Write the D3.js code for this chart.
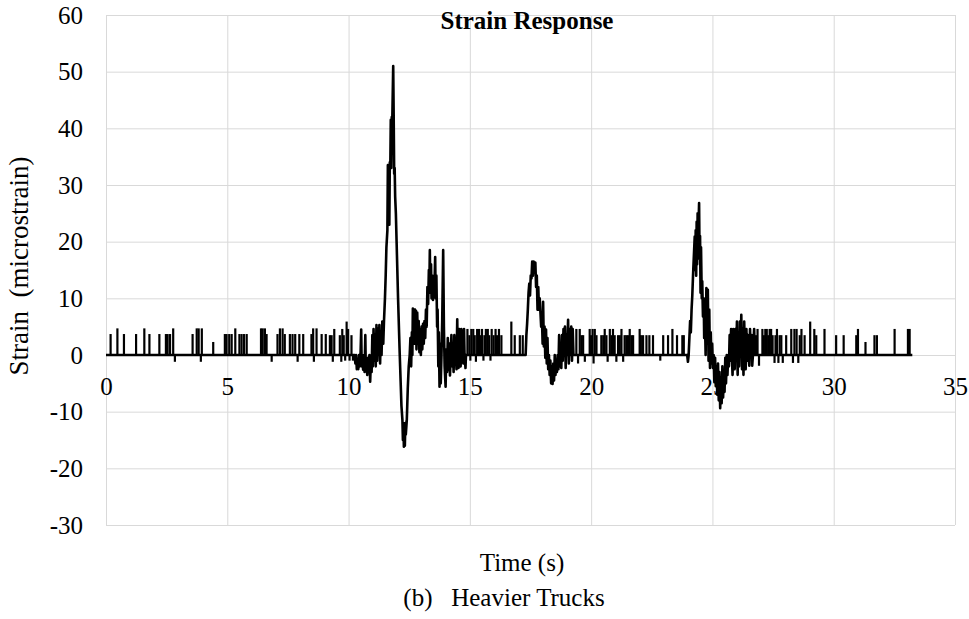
<!DOCTYPE html>
<html>
<head>
<meta charset="utf-8">
<script src="https://cdn.jsdelivr.net/npm/d3@7"></script>
<style>
  html, body { margin: 0; padding: 0; background: #fff; }
  svg { display: block; }
  text { font-family: "Liberation Serif", "Times New Roman", serif; fill: #000; }
</style>
</head>
<body>
<svg id="chart" width="969" height="619"></svg>
<script>
// ---------- data ----------
const xTicks = [0, 5, 10, 15, 20, 25, 30, 35];
const yTicks = [-30, -20, -10, 0, 10, 20, 30, 40, 50, 60];

const chartTitle = "Strain Response";
const xTitle = "Time (s)";
const yTitle = "Strain  (microstrain)";
const caption = "(b)   Heavier Trucks";

// trace endpoints (time s, strain)
const traceStart = [[0, 0]];
const traceEnd = [[33.24, 0]];

// isolated baseline noise spikes: [time, strain]
const quietSpikes = [
  [0.19,3.7],[0.47,4.7],[0.74,3.7],[1.24,3.7],[1.58,4.7],[1.79,3.7],[2.20,3.7],[2.47,3.7],
  [2.54,3.7],[2.64,3.7],[2.77,4.7],[2.84,-1.2],[3.57,3.7],[3.74,4.7],[3.82,4.7],[3.91,-1.2],
  [3.95,4.7],[4.42,2.3],[4.90,3.7],[4.97,3.7],[5.08,3.7],[5.18,3.7],[5.33,4.7],[5.50,3.7],
  [5.59,3.7],[5.69,3.7],[5.80,3.7],[6.39,4.7],[6.46,4.7],[6.55,4.7],[6.62,3.7],[6.83,-1.2],
  [7.07,3.7],[7.17,4.7],[7.28,4.7],[7.37,3.7],[7.58,3.7],[7.69,3.7],[7.80,3.7],[7.90,-1.2],
  [7.97,3.7],[8.13,3.7],[8.47,3.7],[8.54,4.7],[8.57,-1.2],[8.68,4.7],[8.89,3.7],[9.06,3.7],
  [9.23,3.5],[9.30,3.5],[9.35,-1.2],[9.41,4.6],[9.64,3.5],[9.70,-1.2],[9.74,4.6],[9.80,3.5],
  [9.86,-1.0],[9.92,5.9],[9.98,4.6],[10.04,-1.0],[10.12,3.5],[10.18,-1.0],
  [14.90,4.6],[14.98,3.5],[15.02,-1.0],[15.06,4.6],[15.14,4.6],[15.20,3.5],[15.25,-1.2],
  [15.30,4.6],[15.38,4.6],[15.44,3.5],[15.50,4.6],[15.56,-1.0],[15.60,3.5],[15.66,4.6],
  [15.74,4.6],[15.80,3.5],[15.85,-1.0],[15.90,4.6],[15.98,3.5],[16.06,4.6],[16.12,3.5],
  [16.20,4.6],[16.30,3.5],[16.71,5.9],[16.85,3.5],[17.06,3.5],[17.18,3.5],
  [19.39,4.6],[19.46,-1.5],[19.53,4.6],[19.60,3.5],[19.67,3.5],[19.74,-1.2],[19.94,4.6],
  [20.00,3.5],[20.06,4.6],[20.10,-1.5],[20.15,4.6],[20.22,3.5],[20.42,3.5],[20.50,3.5],
  [20.56,4.6],[20.63,3.5],[20.68,-1.2],[20.77,4.6],[20.84,3.5],[20.90,4.6],[20.97,3.5],
  [21.04,-1.2],[21.11,3.5],[21.18,3.5],[21.25,4.6],[21.32,-1.2],[21.38,3.5],[21.45,3.5],
  [21.52,3.5],[21.59,4.6],[21.66,3.5],[21.73,3.5],[22.00,4.6],[22.05,3.5],[22.14,3.5],
  [22.28,3.5],[22.40,3.5],[22.55,3.5],[22.85,-1.0],[22.97,3.5],[23.17,3.5],[23.35,4.6],
  [23.54,3.5],[23.76,3.5],[23.82,3.5],
  [26.80,3.5],[26.86,4.6],[26.92,-1.9],[27.06,4.6],[27.12,3.5],[27.18,4.6],[27.24,4.6],
  [27.30,3.5],[27.36,4.6],[27.42,4.6],[27.48,3.5],[27.56,-1.4],[27.60,3.5],[27.66,4.6],
  [27.72,-1.4],[27.77,3.5],[27.84,3.5],[27.90,-1.4],[28.04,3.5],[28.25,4.6],[28.32,-1.4],
  [28.38,4.6],[28.47,4.6],[28.54,-1.4],[28.60,3.5],[28.67,4.6],[28.80,3.5],[29.03,5.9],
  [29.20,4.6],[29.28,3.5],[29.62,4.6],[30.10,3.5],[30.41,3.5],[30.93,3.5],[31.00,4.6],
  [31.31,2.3],[31.68,3.5],[31.78,3.5],[32.51,4.6],[33.06,4.6],[33.13,4.6]
];

// first vehicle passage (largest peak and following axles)
const passage1 = [
  [10.22,0],[10.25,0],[10.28,-1.5],[10.31,0],[10.34,-2.5],[10.37,-1],[10.40,-2.5],[10.43,0],
  [10.46,-2],[10.49,-0.5],[10.52,4.5],[10.54,-2],[10.57,-1],[10.60,-2.6],[10.63,0],[10.66,-3],
  [10.69,3.5],[10.71,-2.5],[10.74,-1],[10.77,-3.5],[10.80,-0.5],[10.83,-2],[10.86,0],[10.89,-4.7],
  [10.92,-1],[10.95,-3],[10.98,3.5],[11.00,-2],[11.03,4.6],[11.06,-1],[11.09,3.5],[11.12,-2],
  [11.15,5.3],[11.18,-1],[11.21,4.6],[11.24,0],[11.27,5.3],[11.30,-1.5],[11.33,4],[11.36,0],
  [11.39,5.9],[11.43,2],[11.46,6],[11.50,10],[11.53,14],[11.56,19],[11.60,22],[11.62,33.5],
  [11.64,24],[11.66,33],[11.68,23],[11.70,34],[11.72,33],[11.74,41.5],[11.76,33],[11.78,42],
  [11.80,41],[11.84,51],[11.86,42],[11.88,32],[11.90,33],[11.92,28],[11.95,25],[11.98,20],
  [12.04,10],[12.11,0],[12.18,-9],[12.22,-11.5],[12.24,-15],[12.26,-12],[12.28,-16.2],[12.30,-12.5],
  [12.32,-16],[12.34,-12],[12.36,-14],[12.40,-11.5],[12.44,-6],[12.48,-2],[12.52,0],[12.55,3],
  [12.58,-2],[12.61,4],[12.63,0],[12.65,8.2],[12.68,3],[12.70,8],[12.72,2],[12.74,8],
  [12.76,5],[12.78,7.8],[12.80,1],[12.83,7.5],[12.86,2],[12.89,6],[12.92,0.5],[12.95,4.5],
  [12.98,0],[13.01,5],[13.04,1],[13.07,5.5],[13.10,2],[13.13,6],[13.16,3],[13.19,8],
  [13.22,5],[13.25,12],[13.28,9],[13.31,15],[13.33,12],[13.35,18.5],[13.37,11],[13.40,16],
  [13.42,10],[13.45,14],[13.48,9.7],[13.51,13],[13.54,12],[13.57,17.3],[13.59,10],[13.62,14],
  [13.65,5],[13.67,8],[13.70,-2],[13.72,4],[13.75,-5.6],[13.77,2],[13.80,-5],[13.83,0],
  [13.86,6],[13.90,18.5],[13.93,5],[13.96,-2],[14.00,-5.6],[14.03,1],[14.06,-3],[14.09,3],
  [14.12,-2.6],[14.15,2],[14.18,-3.6],[14.21,0],[14.24,3.5],[14.27,-2],[14.30,1],[14.33,-3],
  [14.36,3.5],[14.39,-1.5],[14.42,0],[14.45,-2.5],[14.48,6.3],[14.50,0],[14.53,-2.3],[14.56,4.6],
  [14.58,0],[14.62,-2],[14.65,4.6],[14.67,0],[14.71,3.5],[14.73,-1.5],[14.76,4.6],[14.78,0],
  [14.82,-2.3],[14.84,0]
];

// second vehicle passage
const passage2 = [
  [17.30,0],[17.33,3.5],[17.36,5.5],[17.39,8],[17.42,11],[17.45,12.6],[17.48,10.5],[17.51,14],
  [17.54,13.5],[17.57,16.5],[17.60,14],[17.63,16.5],[17.66,15],[17.70,16.3],[17.73,12],[17.76,14],
  [17.79,8],[17.82,12],[17.85,8],[17.88,10],[17.91,7.5],[17.94,5],[17.97,7],[18.00,2],
  [18.02,9.4],[18.05,1.5],[18.08,5],[18.11,-0.5],[18.14,4.5],[18.17,-1.5],[18.20,3],[18.23,-2.5],
  [18.26,0],[18.29,-3.5],[18.32,-1],[18.35,-5],[18.38,-2],[18.41,-5.1],[18.44,-1.5],[18.47,-4.5],
  [18.50,0],[18.53,-3.5],[18.56,-1],[18.59,-3],[18.62,0],[18.65,-2.5],[18.68,3.5],[18.71,-2],
  [18.74,0],[18.77,-2.3],[18.80,3.5],[18.83,-1],[18.86,4.6],[18.89,0],[18.92,5],[18.95,-2.3],
  [18.98,3.5],[19.01,0],[19.05,6.2],[19.08,-1.5],[19.11,4.6],[19.14,0],[19.18,5],[19.21,-1],
  [19.24,4.6],[19.27,0]
];

// third vehicle passage
const passage3 = [
  [23.96,0],[23.99,-1.2],[24.02,0],[24.05,3],[24.08,6],[24.11,4],[24.14,8],[24.17,10.5],
  [24.20,14],[24.23,17],[24.27,20.9],[24.29,15],[24.31,22],[24.33,14],[24.35,23.5],[24.37,16],
  [24.39,25],[24.41,20],[24.45,26.8],[24.47,17],[24.49,21],[24.51,11],[24.53,19],[24.56,10],
  [24.58,13],[24.61,6.8],[24.64,10],[24.66,3],[24.69,6.8],[24.72,0],[24.75,11.8],[24.78,2],
  [24.81,11.5],[24.84,-1],[24.87,8],[24.90,-2.3],[24.93,4],[24.96,-1.5],[24.99,2],[25.02,-2.3],
  [25.05,0],[25.08,-4.8],[25.11,-0.5],[25.14,-5.5],[25.17,-2],[25.20,-7],[25.23,-1.5],[25.26,-8],
  [25.29,-3],[25.32,-9.4],[25.35,-4],[25.38,-8.5],[25.41,-2],[25.44,-7.5],[25.47,-3],[25.50,-6.5],
  [25.53,-0.5],[25.56,-5],[25.59,0],[25.62,-3.5],[25.65,0],[25.68,-2],[25.71,3.5],[25.74,-1],
  [25.77,4.6],[25.80,0],[25.83,-3.5],[25.86,4.6],[25.89,0],[25.92,-2.5],[25.95,4.6],[25.98,-1],
  [26.01,5.9],[26.04,-3.5],[26.07,3.5],[26.10,-2],[26.13,5.9],[26.16,0],[26.19,7.1],[26.22,-2.5],
  [26.25,4.6],[26.28,-3.5],[26.31,5.9],[26.34,0],[26.37,-2.5],[26.40,4.6],[26.43,-1],[26.46,3.5],
  [26.49,0],[26.52,-1.9],[26.55,4.6],[26.58,0],[26.61,3.5],[26.64,-1.9],[26.67,0],[26.72,4.6],
  [26.75,0]
];

// ---------- layout ----------
const svg = d3.select("#chart");
const plot = { left: 106, right: 955, top: 15, bottom: 525 };

const x = d3.scaleLinear().domain([0, 35]).range([plot.left, plot.right]);
const y = d3.scaleLinear().domain([-30, 60]).range([plot.bottom, plot.top]);

const fontSize = 25;
const fmt = d => String(d);   // plain hyphen-minus, as in the reference

// gridlines
svg.append("g")
  .attr("transform", `translate(0,${plot.bottom})`)
  .call(d3.axisBottom(x).tickValues(xTicks).tickSize(-(plot.bottom - plot.top)).tickFormat(""))
  .call(g => g.select(".domain").remove())
  .call(g => g.selectAll(".tick line").attr("stroke", "#d9d9d9").attr("stroke-width", 1));

svg.append("g")
  .attr("transform", `translate(${plot.left},0)`)
  .call(d3.axisLeft(y).tickValues(yTicks).tickSize(-(plot.right - plot.left)).tickFormat(""))
  .call(g => g.select(".domain").remove())
  .call(g => g.selectAll(".tick line").attr("stroke", "#d9d9d9").attr("stroke-width", 1));

// y tick labels
svg.append("g")
  .attr("transform", `translate(${plot.left},0)`)
  .call(d3.axisLeft(y).tickValues(yTicks).tickSize(0).tickPadding(23).tickFormat(fmt))
  .call(g => g.select(".domain").remove())
  .call(g => g.selectAll("text")
    .attr("font-size", fontSize)
    .style("font-family", '"Liberation Serif", "Times New Roman", serif')
    .attr("fill", "#000"));

// x tick labels (along the zero line)
svg.append("g")
  .attr("transform", `translate(0,${y(0)})`)
  .call(d3.axisBottom(x).tickValues(xTicks).tickSize(0).tickPadding(22).tickFormat(fmt))
  .call(g => g.select(".domain").remove())
  .call(g => g.selectAll("text")
    .attr("font-size", fontSize)
    .style("font-family", '"Liberation Serif", "Times New Roman", serif')
    .attr("fill", "#000"));

// trace
const trace = traceStart.concat(passage1, passage2, passage3, traceEnd);
const line = d3.line().x(d => x(d[0])).y(d => y(d[1]));

svg.append("g").selectAll("line.spike")
  .data(quietSpikes)
  .join("line")
  .attr("class", "spike")
  .attr("x1", d => x(d[0]))
  .attr("x2", d => x(d[0]))
  .attr("y1", y(0))
  .attr("y2", d => y(d[1]))
  .attr("stroke", "#000")
  .attr("stroke-width", 2.2);

svg.append("path")
  .datum(trace)
  .attr("d", line)
  .attr("fill", "none")
  .attr("stroke", "#000")
  .attr("stroke-width", 2.6)
  .attr("stroke-linejoin", "round");

// titles
svg.append("text")
  .attr("x", 527).attr("y", 29)
  .attr("text-anchor", "middle")
  .attr("font-size", fontSize)
  .attr("font-weight", "bold")
  .text(chartTitle);

svg.append("text")
  .attr("transform", `translate(28,266) rotate(-90)`)
  .attr("text-anchor", "middle")
  .attr("font-size", 27)
  .style("white-space", "pre")
  .text(yTitle);

svg.append("text")
  .attr("x", 522).attr("y", 571)
  .attr("text-anchor", "middle")
  .attr("font-size", fontSize)
  .text(xTitle);

svg.append("text")
  .attr("x", 504).attr("y", 606)
  .attr("text-anchor", "middle")
  .attr("font-size", fontSize)
  .style("white-space", "pre")
  .text(caption);
</script>
</body>
</html>
